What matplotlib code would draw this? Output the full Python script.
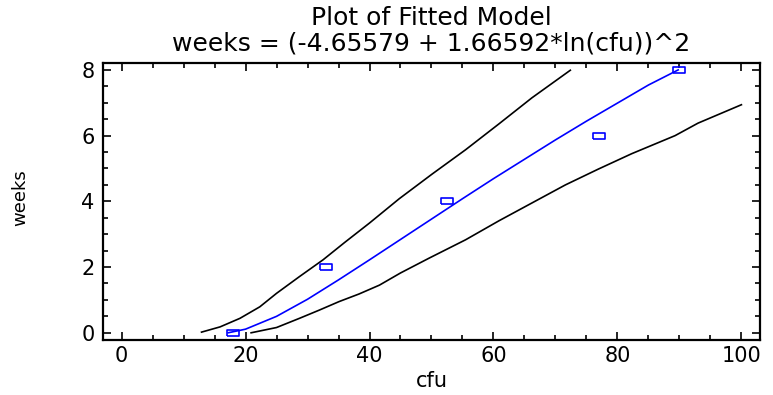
import matplotlib
matplotlib.use("Agg")
import matplotlib.pyplot as plt
from matplotlib.ticker import MultipleLocator

# observed data
cfu = [18, 33, 52.5, 77, 90]
weeks = [0, 2, 4, 6, 8]

# fitted model line
fit_x = [17.2, 20, 25, 30, 35, 40, 45, 50, 55, 60, 65, 70, 75, 80, 85, 89.8]
fit_y = [0.0, 0.11, 0.50, 1.02, 1.61, 2.22, 2.84, 3.46, 4.08, 4.69, 5.28, 5.87, 6.44, 6.99, 7.54, 8.0]

# upper band
up_x = [12.9, 15.9, 19.1, 22.3, 25.0, 28.7, 32.5, 36.0, 40.0, 44.8, 50.1, 55.5, 60.9, 66.2, 72.4]
up_y = [0.02, 0.18, 0.44, 0.79, 1.20, 1.71, 2.22, 2.75, 3.34, 4.08, 4.83, 5.57, 6.36, 7.15, 7.99]

# lower band
lo_x = [20.9, 25.0, 28.7, 31.9, 35.1, 38.3, 41.6, 45.0, 49.6, 55.5, 60.9, 66.2, 71.6, 76.9, 82.3, 89.3, 93.0, 100.0]
lo_y = [0.0, 0.16, 0.44, 0.69, 0.95, 1.18, 1.45, 1.82, 2.27, 2.83, 3.41, 3.95, 4.50, 4.98, 5.45, 6.00, 6.38, 6.94]

title1 = "Plot of Fitted Model"
title2 = "weeks = (-4.65579 + 1.66592*ln(cfu))^2"

plt.rcParams['font.family'] = ['DejaVu Sans']

fig = plt.figure(figsize=(7.73, 3.95), dpi=100)
ax = fig.add_axes([0.1332, 0.1392, 0.85, 0.7013])

ax.plot(up_x, up_y, color='black', lw=1.2)
ax.plot(lo_x, lo_y, color='black', lw=1.2)
ax.plot(fit_x, fit_y, color='blue', lw=1.2)

# wide open rectangles as markers
rect = [(-1, -0.5), (1, -0.5), (1, 0.5), (-1, 0.5), (-1, -0.5)]
ax.plot(cfu, weeks, linestyle='none', marker=rect, markersize=8,
        markerfacecolor='none', markeredgecolor='blue', markeredgewidth=1.2)

ax.set_xlim(-3, 103)
ax.set_ylim(-0.22, 8.21)
ax.xaxis.set_major_locator(MultipleLocator(20))
ax.xaxis.set_minor_locator(MultipleLocator(5))
ax.yaxis.set_major_locator(MultipleLocator(2))
ax.yaxis.set_minor_locator(MultipleLocator(0.5))

ax.tick_params(which='both', direction='in', top=True, right=True, labelsize=15, width=1.2)
ax.tick_params(which='major', length=6)
ax.tick_params(which='minor', length=3.5)
ax.tick_params(axis='x', pad=4)
ax.tick_params(axis='y', pad=6)
for s in ax.spines.values():
    s.set_linewidth(1.6)

fig.text(431.5 / 773, 1 - 18 / 395, title1, ha='center', va='center', fontsize=18)
fig.text(431.5 / 773, 1 - 44 / 395, title2, ha='center', va='center', fontsize=18)
fig.text(431.5 / 773, 1 - 381 / 395, "cfu", ha='center', va='center', fontsize=15)
fig.text(20 / 773, 1 - 198 / 395, "weeks", ha='center', va='center', fontsize=13, rotation=90)

fig.savefig("out.png", dpi=100)
